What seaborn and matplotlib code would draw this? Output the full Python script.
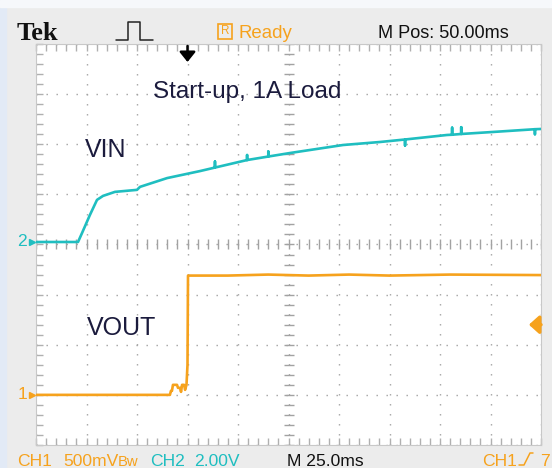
import numpy as np
import matplotlib
matplotlib.use("Agg")
import matplotlib.pyplot as plt
import matplotlib.transforms as mtrans
from matplotlib.patches import Rectangle
from matplotlib.lines import Line2D
from matplotlib.ticker import MultipleLocator
from matplotlib import font_manager as fm
import seaborn as sns

# CH2 : VIN  (time in ms relative to trigger, volts)
vin_t_ms = [-75.0, -54.2, -52.2, -48.3, -44.8, -41.8, -35.9, -25.0, -23.5, -10.1,
            6.2, 13.6, 13.6, 13.6, 29.5, 29.5, 29.5, 40.0, 40.0, 40.0, 50.7, 77.0,
            95.3, 107.7, 107.7, 107.7, 128.5, 131.0, 131.0, 131.0, 135.5, 135.5,
            135.5, 151.2, 172.0, 172.0, 172.0, 175.0]
vin_v = [0.00, 0.00, 0.36, 1.08, 1.68, 1.84, 2.00, 2.08, 2.20, 2.55,
         2.83, 2.97, 3.21, 2.97, 3.27, 3.47, 3.27, 3.41, 3.61, 3.41, 3.55, 3.87,
         3.99, 4.09, 3.85, 4.09, 4.27, 4.28, 4.56, 4.28, 4.31, 4.58,
         4.31, 4.39, 4.50, 4.30, 4.50, 4.51]

# CH1 : VOUT
vout_t_ms = [-75.0, -9.7, -8.7, -8.2, -7.7, -7.2, -5.2, -4.7, -3.7, -3.2, -2.7,
             -1.7, -1.2, -0.5, 0.0, 0.25, 20.0, 40.0, 60.0, 80.0, 100.0, 130.0,
             175.0]
vout_v = [0.00, 0.00, 0.00, 0.04, 0.04, 0.10, 0.10, 0.07, 0.07, 0.03, 0.10,
          0.10, 0.05, 0.10, 0.30, 1.19, 1.19, 1.20, 1.19, 1.20, 1.19, 1.20,
          1.195]

ch1_scale = 0.5        # V/div
ch2_scale = 2.0        # V/div
ch1_ground_div = -3.0
ch2_ground_div = 0.05
time_per_div = 25.0    # ms/div
m_pos = 50.0           # ms
trigger_level = 0.7    # V on CH1

header_labels = ["Tek", "Ready", "M Pos: 50.00ms"]
footer_labels = ["CH1", "500mV", "CH2", "2.00V", "M 25.0ms", "CH1", "7"]
annotations = ["Start-up, 1A Load", "VIN", "VOUT"]

TEAL = "#1fbec0"
ORANGE = "#f6a21d"
NAVY = "#1b1b3d"
GRID = "#a2a2a2"

# ---------------- style ----------------
sns.set_style("white")
plt.rcParams["lines.scale_dashes"] = False
names = {f.name for f in fm.fontManager.ttflist}
if "Liberation Sans Narrow" in names:
    SCOPE, K = "Liberation Sans Narrow", 1.0
else:
    SCOPE, K = "Liberation Sans", 0.84
plt.rcParams["font.family"] = ["Liberation Sans", "DejaVu Sans"]

W, H = 552, 468
fig = plt.figure(figsize=(W / 100, H / 100), dpi=100, facecolor="#ececec")
PX = mtrans.Affine2D().scale(1 / W, -1 / H).translate(0, 1) + fig.transFigure

fig.patches.append(Rectangle((0, 0), 6, H, transform=PX, color="#e2eaf6", zorder=0))
fig.patches.append(Rectangle((0, 0), W, 7, transform=PX, color="#f6f8fb", zorder=0))

# ---------------- graticule ----------------
L, T, R, B = 36, 44, 541, 445
ax = fig.add_axes([L / W, 1 - B / H, (R - L) / W, (B - T) / H])
ax.set_facecolor("white")
t0, t1 = m_pos - 5 * time_per_div, m_pos + 5 * time_per_div
ax.xaxis.set_major_locator(MultipleLocator(time_per_div))
ax.xaxis.set_minor_locator(MultipleLocator(time_per_div / 5))
ax.yaxis.set_major_locator(MultipleLocator(1))
ax.yaxis.set_minor_locator(MultipleLocator(0.2))
ax.tick_params(which="both", direction="in", top=True, right=True, bottom=True,
               left=True, length=5, width=1, color="#b0b0b0",
               labelbottom=False, labelleft=False)
for s in ax.spines.values():
    s.set_color("#c8c8c8")
    s.set_linewidth(0.8)
ax.grid(which="major", color=GRID, lw=1.0, linestyle=(0, (1, 6.2)))
ax.plot(np.full(41, m_pos), np.arange(-4, 4.001, 0.2), ls="none", marker="_",
        ms=7, mew=1, color=GRID)
ax.plot(np.arange(t0, t1 + 0.01, time_per_div / 5), np.zeros(51), ls="none",
        marker="|", ms=7, mew=1, color=GRID)
ax.set_xlim(t0, t1)
ax.set_ylim(-4, 4)

# ---------------- channels ----------------
ax2 = ax.twinx()
ax1 = ax.twinx()
sns.lineplot(x=vin_t_ms, y=vin_v, ax=ax2, estimator=None, sort=False,
             color=TEAL, lw=1.9)
sns.lineplot(x=vout_t_ms, y=vout_v, ax=ax1, estimator=None, sort=False,
             color=ORANGE, lw=1.9)
for a, sc, g in ((ax2, ch2_scale, ch2_ground_div), (ax1, ch1_scale, ch1_ground_div)):
    a.set_ylim((-4 - g) * sc, (4 - g) * sc)
    a.set_xlim(t0, t1)
    a.axis("off")

# ground markers
for a, lab, col in ((ax2, "2", TEAL), (ax1, "1", ORANGE)):
    bt = mtrans.blended_transform_factory(a.transAxes, a.transData)
    a.text(0, 0, lab, transform=bt + mtrans.ScaledTranslation(-0.185, 0, fig.dpi_scale_trans),
           ha="left", va="center", color=col, fontsize=15 * K, family=SCOPE)
    a.plot([0], [0], marker=">", ms=5, color=col, clip_on=False,
           transform=bt + mtrans.ScaledTranslation(-0.045, 0, fig.dpi_scale_trans))

# trigger level marker (CH1)
ax1.annotate("", xy=(0.976, trigger_level), xycoords=("axes fraction", "data"),
             xytext=(1.0, trigger_level), textcoords=("axes fraction", "data"),
             arrowprops=dict(arrowstyle="-|>,head_length=0.5,head_width=0.45",
                             color=ORANGE, lw=2.5, shrinkA=0, shrinkB=0,
                             mutation_scale=12))
# trigger position marker
ax.annotate("", xy=(0.0, 0.955), xycoords=("data", "axes fraction"),
            xytext=(0.0, 0.995), textcoords=("data", "axes fraction"),
            arrowprops=dict(arrowstyle="-|>,head_length=0.5,head_width=0.4",
                            color="black", lw=1.8, shrinkA=0, shrinkB=0,
                            mutation_scale=12), annotation_clip=False)

# ---------------- header ----------------
fig.text(17 / W, 1 - 40 / H, header_labels[0], transform=fig.transFigure,
         family=["Liberation Serif", "DejaVu Serif"], weight="bold", fontsize=19,
         color="#111111", ha="left", va="baseline")
fig.add_artist(Line2D([116, 128, 128, 140, 140, 153], [40, 40, 22, 22, 40, 40],
                      transform=PX, color="#222222", lw=1.1))
fig.patches.append(Rectangle((218, 24), 14, 15, transform=PX, fill=False,
                             edgecolor=ORANGE, lw=1.2))
fig.text(225 / W, 1 - 31.5 / H, "R", color=ORANGE, fontsize=10 * K, family=SCOPE,
         ha="center", va="center")
fig.text(238 / W, 1 - 38 / H, header_labels[1], color=ORANGE, fontsize=16 * K,
         family=SCOPE, ha="left", va="baseline")
fig.text(378 / W, 1 - 38 / H, header_labels[2], color="#111111", fontsize=15.5 * K,
         family=SCOPE, ha="left", va="baseline")

# ---------------- footer ----------------
fy = 1 - 466 / H
fs = 15 * K
fig.text(17 / W, fy, footer_labels[0], color=ORANGE, fontsize=fs, family=SCOPE, va="baseline")
fig.text(63 / W, fy, footer_labels[1], color=ORANGE, fontsize=fs, family=SCOPE, va="baseline")
fig.text(118 / W, fy, "Bw", color=ORANGE, fontsize=fs * 0.85, family=SCOPE, va="baseline")
fig.text(150 / W, fy, footer_labels[2], color=TEAL, fontsize=fs, family=SCOPE, va="baseline")
fig.text(194 / W, fy, footer_labels[3], color=TEAL, fontsize=fs, family=SCOPE, va="baseline")
fig.text(287 / W, fy, footer_labels[4], color="#111111", fontsize=fs, family=SCOPE, va="baseline")
fig.text(482 / W, fy, footer_labels[5], color=ORANGE, fontsize=fs, family=SCOPE, va="baseline")
fig.add_artist(Line2D([519, 524, 530, 533], [465, 465, 453, 453], transform=PX,
                      color=ORANGE, lw=1.1))
fig.text(540 / W, fy, footer_labels[6], color=ORANGE, fontsize=fs, family=SCOPE, va="baseline")

# ---------------- annotations ----------------
fig.text(153 / W, 1 - 98 / H, annotations[0], color=NAVY, fontsize=17.5, ha="left", va="baseline")
fig.text(85 / W, 1 - 157 / H, annotations[1], color=NAVY, fontsize=18, ha="left", va="baseline")
fig.text(87 / W, 1 - 335 / H, annotations[2], color=NAVY, fontsize=18, ha="left", va="baseline")

fig.savefig("out.png", dpi=100, facecolor=fig.get_facecolor())
